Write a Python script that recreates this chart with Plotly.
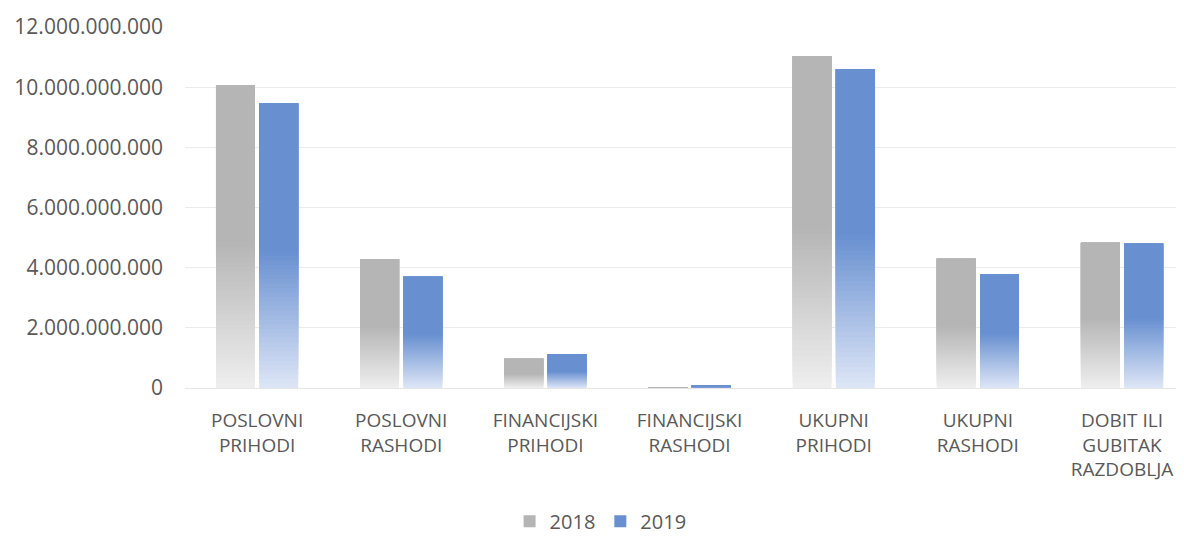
import plotly.graph_objects as go

categories = ["POSLOVNI<br>PRIHODI", "POSLOVNI<br>RASHODI", "FINANCIJSKI<br>PRIHODI",
              "FINANCIJSKI<br>RASHODI", "UKUPNI<br>PRIHODI", "UKUPNI<br>RASHODI",
              "DOBIT ILI<br>GUBITAK<br>RAZDOBLJA"]
values_2018 = [10.07e9, 4.28e9, 0.97e9, 0.03e9, 11.02e9, 4.30e9, 4.83e9]
values_2019 = [9.46e9, 3.70e9, 1.13e9, 0.08e9, 10.60e9, 3.77e9, 4.80e9]
series_names = ["2018", "2019"]

# styling: (solid top colour, light bottom colour)
series_colors = {
    "2018": ((181, 181, 181), (239, 239, 239)),
    "2019": ((104, 144, 208), (222, 230, 247)),
}
FADE_PART = 0.48   # lower fraction of each bar that fades out
N_STEPS = 30

def rgb(c):
    return "rgb(%d,%d,%d)" % tuple(int(round(v)) for v in c)

fig = go.Figure()
for name, vals in zip(series_names, [values_2018, values_2019]):
    top, bottom = series_colors[name]
    # fading lower part: overlapping bars, each starting a bit higher, drawn on top
    for k in range(N_STEPS):
        f0 = FADE_PART * k / N_STEPS
        t = (k + 0.5) / N_STEPS
        col = [bottom[i] + (top[i] - bottom[i]) * t for i in range(3)]
        fig.add_trace(go.Bar(
            x=categories, y=[v * (1 - f0) for v in vals],
            base=[v * f0 for v in vals],
            name=name, offsetgroup=name, legendgroup=name, showlegend=False,
            marker=dict(color=rgb(col), line=dict(width=0)),
            hoverinfo="skip",
        ))
    # solid upper part
    fig.add_trace(go.Bar(
        x=categories, y=[v * (1 - FADE_PART) for v in vals],
        base=[v * FADE_PART for v in vals],
        name=name, offsetgroup=name, legendgroup=name, showlegend=True,
        marker=dict(color=rgb(top), line=dict(width=0)),
    ))

fig.update_layout(
    width=1176, height=529,
    margin=dict(l=177, r=0, t=19, b=149, autoexpand=False),
    paper_bgcolor="white", plot_bgcolor="white",
    barmode="group", bargap=0.4, bargroupgap=0.1,
    separators=",.",
    font=dict(family="Open Sans", size=20, color="#595959"),
    legend=dict(orientation="h", x=0.416, xanchor="center",
                yref="container", y=0.03, yanchor="middle",
                font=dict(size=20, color="#595959"), traceorder="normal"),
    showlegend=True,
)
fig.update_xaxes(range=[-0.5, 6.43], showgrid=False, showline=False, ticks="",
                 automargin=False, ticklabelstandoff=19,
                 tickfont=dict(size=19, color="#595959"))
fig.update_yaxes(range=[0, 12e9], dtick=2e9, tickformat=",d",
                 showgrid=True, gridcolor="#EBEBEB", gridwidth=1,
                 zeroline=True, zerolinecolor="#E6E6E6", zerolinewidth=1,
                 showline=False, ticks="", ticklabelstandoff=21, automargin=False,
                 tickfont=dict(size=21, color="#595959"))

fig.write_html("out.html")
